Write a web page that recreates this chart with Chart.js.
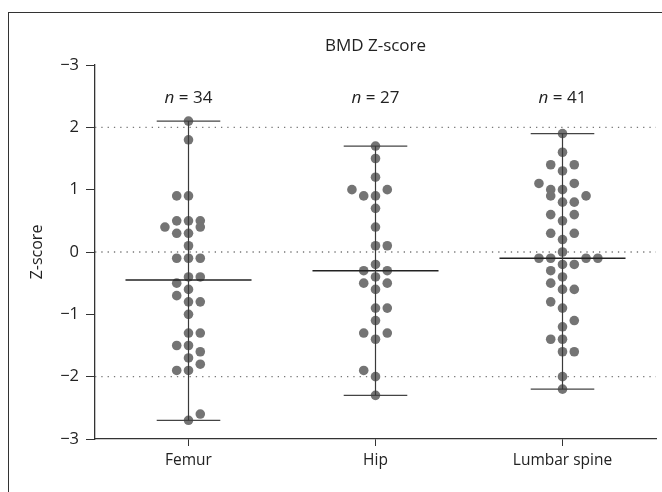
<!DOCTYPE html>
<html>
<head>
<meta charset="utf-8">
<script src="https://cdn.jsdelivr.net/npm/chart.js@4.4.1/dist/chart.umd.min.js"></script>
<style>
    html, body { margin: 0; padding: 0; background: #fff; }
    #wrap { position: relative; width: 662px; height: 492px; overflow: hidden; }
    #frame { position: absolute; left: 8px; top: 12px; width: 700px; height: 600px;
             border-left: 1.5px solid #333; border-top: 1.5px solid #333; }
    canvas { position: absolute; left: 0; top: 0; }
</style>
</head>
<body>
<div id="wrap">
    <div id="frame"></div>
    <canvas id="chart" width="662" height="492"></canvas>
</div>
<script>
// Categories and per-group Z-scores
const categories = ['Femur', 'Hip', 'Lumbar spine'];

const femurValues = [2.1, 1.8, 0.9, 0.9, 0.5, 0.5, 0.5, 0.4, 0.4, 0.3, 0.3, 0.1, -0.1, -0.1, -0.1,
    -0.4, -0.4, -0.5, -0.6, -0.7, -0.8, -0.8, -1.0, -1.3, -1.3, -1.5, -1.5, -1.6, -1.7, -1.8,
    -1.9, -1.9, -2.6, -2.7];
const hipValues = [1.7, 1.5, 1.2, 1.0, 1.0, 0.9, 0.9, 0.7, 0.4, 0.1, 0.1, -0.2, -0.3, -0.3,
    -0.4, -0.5, -0.5, -0.6, -0.9, -0.9, -1.1, -1.3, -1.3, -1.4, -1.9, -2.0, -2.3];
const lumbarValues = [1.9, 1.6, 1.4, 1.4, 1.3, 1.1, 1.1, 1.0, 1.0, 0.9, 0.9, 0.8, 0.8, 0.6, 0.6,
    0.5, 0.3, 0.3, 0.2, 0.0, -0.1, -0.1, -0.1, -0.1, -0.2, -0.2, -0.3, -0.4, -0.5, -0.6, -0.6,
    -0.8, -0.9, -1.1, -1.2, -1.4, -1.4, -1.6, -1.6, -2.0, -2.2];

// beeswarm column of each point (0 = on the centre line)
const femurSlots = [0, 0, -1, 0, -1, 0, 1, -2, 1, -1, 0, 0, -1, 0, 1, 0, 1, -1, 0, -1, 0, 1, 0,
    0, 1, -1, 0, 1, 0, 1, -1, 0, 1, 0];
const hipSlots = [0, 0, 0, -2, 1, -1, 0, 0, 0, 0, 1, 0, -1, 1, 0, -1, 1, 0, 0, 1, 0, -1, 1, 0,
    -1, 0, 0];
const lumbarSlots = [0, 0, -1, 1, 0, -2, 1, -1, 0, -1, 2, 0, 1, -1, 1, 0, -1, 1, 0, 0, -2, -1, 2,
    3, 0, 1, -1, 0, -1, 0, 1, -1, 0, 1, 0, -1, 0, 0, 1, 0, 0];

const yTicks = [3, 2, 1, 0, -1, -2, -3];
const yTickLabels = ['\u22123', '2', '1', '0', '\u22121', '\u22122', '\u22123'];
const refLines = [2, 0, -2];

const groups = [
    { values: femurValues, slots: femurSlots },
    { values: hipValues, slots: hipSlots },
    { values: lumbarValues, slots: lumbarSlots }
];

const FONT = '"Open Sans", "Noto Sans", sans-serif';
const SLOT_W = 0.063;      // x units between swarm columns
const CAP_HALF = 0.17;
const MEDIAN_HALF = 0.337;
const X_MIN = -0.5, X_MAX = 2.5;

function median(arr) {
    const s = [...arr].sort((a, b) => a - b);
    const m = Math.floor(s.length / 2);
    return s.length % 2 ? s[m] : (s[m - 1] + s[m]) / 2;
}

function segment(x1, y1, x2, y2, color, width) {
    return {
        type: 'line',
        data: [{ x: x1, y: y1 }, { x: x2, y: y2 }],
        borderColor: color,
        borderWidth: width,
        pointRadius: 0,
        fill: false,
        order: 0
    };
}

const datasets = [];

// dotted reference lines
refLines.forEach(v => {
    datasets.push({
        type: 'line',
        data: [{ x: X_MIN, y: v }, { x: X_MAX, y: v }],
        borderColor: '#777',
        borderWidth: 1.3,
        borderDash: [1.3, 5],
        pointRadius: 0,
        order: 3
    });
});

groups.forEach((g, i) => {
    datasets.push({
        type: 'scatter',
        data: g.values.map((v, k) => ({ x: i + g.slots[k] * SLOT_W, y: v })),
        backgroundColor: '#747474',
        borderWidth: 0,
        pointRadius: 4.8,
        order: 2
    });
    const lo = Math.min(...g.values);
    const hi = Math.max(...g.values);
    const med = median(g.values);
    datasets.push(segment(i, lo, i, hi, '#3a3a3a', 1.2));
    datasets.push(segment(i - CAP_HALF, hi, i + CAP_HALF, hi, '#444', 1.3));
    datasets.push(segment(i - CAP_HALF, lo, i + CAP_HALF, lo, '#444', 1.3));
    datasets.push(segment(i - MEDIAN_HALF, med, i + MEDIAN_HALF, med, '#222', 1.5));
});

// title, n labels and the y title drawn by hand
const annotations = {
    id: 'annotations',
    afterDraw(chart) {
        const ctx = chart.ctx;
        const xs = chart.scales.x;
        ctx.save();
        ctx.fillStyle = '#222';
        ctx.textBaseline = 'middle';
        ctx.textAlign = 'center';
        ctx.font = '17px ' + FONT;
        ctx.fillText('BMD Z-score', xs.getPixelForValue(1), 46);

        groups.forEach((g, i) => {
            const cx = xs.getPixelForValue(i);
            const rest = ' = ' + g.values.length;
            ctx.font = 'italic 17px ' + FONT;
            const wN = ctx.measureText('n').width;
            ctx.font = '17px ' + FONT;
            const wR = ctx.measureText(rest).width;
            const left = cx - (wN + wR) / 2;
            ctx.textAlign = 'left';
            ctx.font = 'italic 17px ' + FONT;
            ctx.fillText('n', left, 98);
            ctx.font = '17px ' + FONT;
            ctx.fillText(rest, left + wN, 98);
        });

        ctx.translate(37, 252);
        ctx.rotate(-Math.PI / 2);
        ctx.textAlign = 'center';
        ctx.font = '16px ' + FONT;
        ctx.fillText('Z-score', 0, 0);
        ctx.restore();
    }
};

new Chart(document.getElementById('chart'), {
    data: { datasets },
    options: {
        responsive: false,
        animation: false,
        events: [],
        layout: { padding: { top: 65, right: 6, left: 0, bottom: 0 } },
        plugins: { legend: { display: false }, tooltip: { enabled: false } },
        scales: {
            x: {
                type: 'linear',
                min: X_MIN,
                max: X_MAX,
                afterBuildTicks: s => { s.ticks = categories.map((c, i) => ({ value: i })); },
                afterFit: s => { s.height = 53; },
                ticks: {
                    callback: v => categories[v],
                    color: '#222',
                    font: { family: FONT, size: 15.5 },
                    padding: 5,
                    maxRotation: 0
                },
                grid: { drawOnChartArea: false, tickLength: 7, color: '#333', lineWidth: 1 },
                border: { color: '#333', width: 1.3 }
            },
            y: {
                type: 'linear',
                min: -3,
                max: 3,
                afterBuildTicks: s => { s.ticks = yTicks.map(v => ({ value: v })); },
                afterFit: s => { s.width = 95; },
                ticks: {
                    callback: v => yTickLabels[yTicks.indexOf(v)],
                    color: '#222',
                    font: { family: FONT, size: 16.5 },
                    padding: 7
                },
                grid: { drawOnChartArea: false, tickLength: 9, color: '#333', lineWidth: 1 },
                border: { color: '#333', width: 1.3 }
            }
        }
    },
    plugins: [annotations]
});
</script>
</body>
</html>
